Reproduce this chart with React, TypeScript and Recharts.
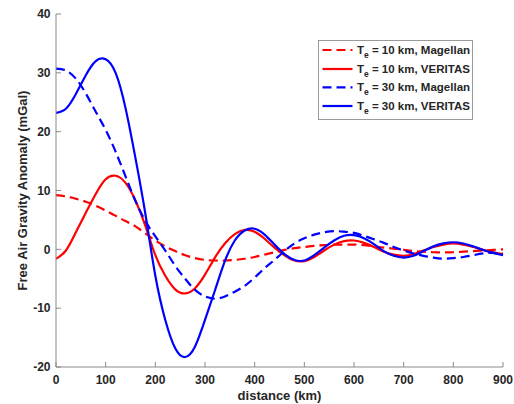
import React from "react";
import { LineChart, Line, XAxis, YAxis, Legend, Label } from "recharts";

const distance = [
  0, 20, 40, 60, 80, 100, 120, 140, 160, 180, 200, 220, 240, 260, 280, 300,
  320, 340, 360, 380, 400, 420, 440, 460, 480, 500, 520, 540, 560, 580, 600,
  620, 640, 660, 680, 700, 720, 740, 760, 780, 800, 820, 840, 860, 880, 900,
];

const te10Magellan = [
  9.2, 9.0, 8.6, 8.1, 7.4, 6.6, 5.7, 4.8, 3.9, 2.7, 1.5, 0.5, -0.3, -1.0, -1.5,
  -1.8, -1.9, -1.9, -1.8, -1.6, -1.3, -0.9, -0.5, -0.1, 0.2, 0.4, 0.6, 0.7, 0.8,
  0.8, 0.8, 0.7, 0.5, 0.3, 0.1, -0.1, -0.3, -0.4, -0.5, -0.5, -0.5, -0.4, -0.3,
  -0.2, -0.1, 0.0,
];

const te10Veritas = [
  -1.6, -0.2, 2.9, 6.2, 9.4, 11.9, 12.5, 11.3, 8.3, 4.0, -1.0, -4.5, -6.8, -7.5,
  -6.6, -4.3, -1.4, 1.0, 2.6, 3.3, 3.0, 1.8, 0.3, -1.0, -1.9, -2.0, -1.3, -0.2,
  0.8, 1.4, 1.5, 1.1, 0.4, -0.4, -0.9, -1.1, -0.8, -0.2, 0.4, 0.8, 1.0, 0.8, 0.4,
  -0.1, -0.5, -0.8,
];

const te30Magellan = [
  30.7, 30.4, 29.0, 26.5, 23.4, 20.3, 16.6, 12.4, 8.2, 4.8, 2.2, -0.2, -2.8,
  -5.0, -6.9, -8.0, -8.4, -8.0, -7.2, -6.2, -4.8, -3.2, -1.8, -0.3, 1.0, 1.9,
  2.5, 2.9, 3.1, 3.0, 2.8, 2.3, 1.7, 1.1, 0.4, -0.2, -0.7, -1.1, -1.4, -1.6,
  -1.5, -1.3, -1.0, -0.7, -0.6, -0.7,
];

const te30Veritas = [
  23.2, 23.9, 26.4, 29.6, 32.0, 32.3, 30.0, 24.0, 15.5, 6.0, -4.5, -12.0,
  -16.8, -18.3, -16.5, -12.0, -7.0, -2.0, 1.5, 3.2, 3.5, 2.5, 0.8, -0.8, -1.8,
  -1.9, -1.0, 0.3, 1.5, 2.3, 2.4, 1.9, 0.9, -0.3, -1.1, -1.4, -1.1, -0.3, 0.5,
  1.0, 1.2, 1.0, 0.5, -0.1, -0.6, -1.0,
];

const xTicks = [0, 100, 200, 300, 400, 500, 600, 700, 800, 900];
const yTicks = [-20, -10, 0, 10, 20, 30, 40];

const series = [
  { key: "m10", te: "10", mission: "Magellan", color: "#ff0000", dash: "9 5", values: te10Magellan },
  { key: "v10", te: "10", mission: "VERITAS", color: "#ff0000", dash: undefined, values: te10Veritas },
  { key: "m30", te: "30", mission: "Magellan", color: "#0000ff", dash: "9 5", values: te30Magellan },
  { key: "v30", te: "30", mission: "VERITAS", color: "#0000ff", dash: undefined, values: te30Veritas },
];

const data = distance.map((d, i) => {
  const row: Record<string, number> = { d };
  series.forEach((s) => {
    row[s.key] = s.values[i];
  });
  return row;
});

const FONT = "'Liberation Sans', Arial, Helvetica, sans-serif";
const TEXT = "#262626";
const AXIS = "#8a8a8a";
const TICK_MARGIN_Y = 5;
const TICK_MARGIN_X = 6;

const YTick = (props: any) => {
  const { x, y, payload } = props;
  const ax = x + TICK_MARGIN_Y;
  return (
    <g>
      <line x1={ax} x2={ax + 5} y1={y} y2={y} stroke={AXIS} strokeWidth={1} />
      <text x={x - 0.5} y={y} dy="0.36em" textAnchor="end" fontFamily={FONT} fontSize={12} fontWeight="bold" fill={TEXT}>
        {payload.value}
      </text>
    </g>
  );
};

const XTick = (props: any) => {
  const { x, y, payload } = props;
  const ay = y - TICK_MARGIN_X;
  return (
    <g>
      <line x1={x} x2={x} y1={ay} y2={ay - 5} stroke={AXIS} strokeWidth={1} />
      <text x={x} y={ay + 17.3} textAnchor="middle" fontFamily={FONT} fontSize={12} fontWeight="bold" fill={TEXT}>
        {payload.value}
      </text>
    </g>
  );
};

const XLabel = (props: any) => {
  const vb = props.viewBox || {};
  const cx = vb.x + vb.width / 2;
  return (
    <text x={cx} y={400} textAnchor="middle" fontFamily={FONT} fontSize={13} fontWeight="bold" fill={TEXT}>
      distance (km)
    </text>
  );
};

const YLabel = (props: any) => {
  const vb = props.viewBox || {};
  const cy = vb.y + vb.height / 2;
  const bx = 26.6;
  return (
    <text x={bx} y={cy} transform={`rotate(-90, ${bx}, ${cy})`} textAnchor="middle" fontFamily={FONT} fontSize={13} fontWeight="bold" fill={TEXT}>
      Free Air Gravity Anomaly (mGal)
    </text>
  );
};

const LegendBox = () => {
  const rows = [10, 29, 47.3, 66];
  return (
    <svg width={155} height={80} style={{ display: "block" }}>
      <rect x={0.5} y={0.5} width={154} height={79} fill="#ffffff" stroke="#9a9a9a" strokeWidth={1} />
      {series.map((s, i) => (
        <g key={s.key}>
          <line x1={4.5} x2={34.5} y1={rows[i]} y2={rows[i]} stroke={s.color} strokeWidth={2.2} strokeDasharray={s.dash} />
          <text x={39} y={rows[i] + 4} fontFamily={FONT} fontSize={11.5} fontWeight="bold" fill={TEXT}>
            T
            <tspan dy={3.5} fontSize={8.5}>e</tspan>
            <tspan dy={-3.5}>{` = ${s.te} km, ${s.mission}`}</tspan>
          </text>
        </g>
      ))}
    </svg>
  );
};

export default function App() {
  return (
    <div style={{ position: "absolute", left: 0, top: 0, width: 514, height: 404, background: "#ffffff" }}>
      <LineChart width={514} height={404} data={data} margin={{ top: 14, right: 11, left: 0, bottom: 0 }}>
        <XAxis
          dataKey="d"
          type="number"
          domain={[0, 900]}
          ticks={xTicks}
          interval={0}
          height={37}
          tickSize={0}
          tickMargin={TICK_MARGIN_X}
          tickLine={false}
          axisLine={{ stroke: AXIS, strokeWidth: 1 }}
          tick={XTick}
        >
          <Label content={XLabel} />
        </XAxis>
        <YAxis
          type="number"
          domain={[-20, 40]}
          ticks={yTicks}
          interval={0}
          width={56}
          tickSize={0}
          tickMargin={TICK_MARGIN_Y}
          tickLine={false}
          axisLine={{ stroke: AXIS, strokeWidth: 1 }}
          tick={YTick}
        >
          <Label content={YLabel} />
        </YAxis>
        <Legend
          layout="vertical"
          align="center"
          verticalAlign="middle"
          content={LegendBox}
          wrapperStyle={{ left: 318, top: 40, width: 155, height: 80 }}
        />
        {series.map((s) => (
          <Line
            key={s.key}
            dataKey={s.key}
            type="natural"
            stroke={s.color}
            strokeWidth={2.2}
            strokeDasharray={s.dash}
            dot={false}
            activeDot={false}
            isAnimationActive={false}
          />
        ))}
      </LineChart>
    </div>
  );
}
